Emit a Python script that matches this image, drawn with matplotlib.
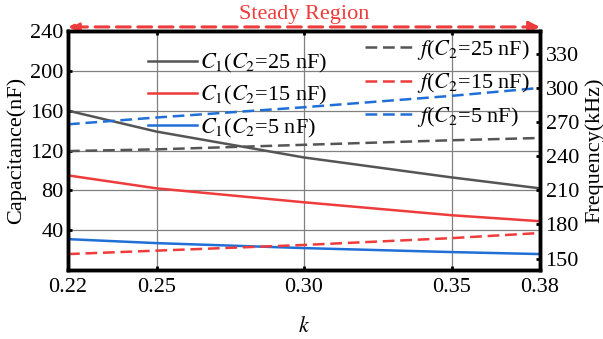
import numpy as np
import matplotlib.pyplot as plt

plt.rcParams['font.family'] = ['Liberation Serif', 'DejaVu Serif']
plt.rcParams['mathtext.fontset'] = 'stix'

k = [0.22, 0.25, 0.30, 0.35, 0.38]
c1_25 = [160, 139, 113, 93, 82]
c1_15 = [95, 82, 68, 55, 49]
c1_5 = [31, 27, 22, 18, 16]
f_25 = [244.5, 246, 250, 254, 256]
f_15 = [154, 157, 162, 168, 172.5]
f_5 = [268, 274, 283, 293, 300]

gray = '#555555'
red = '#ee3b3b'
blue = '#1f6fd6'
dash = (0, (4.7, 2.3))
fs = 16

fig = plt.figure(figsize=(6.03, 3.39), dpi=100)
ax = fig.add_axes([68/603, 1-270/339, 472/603, 239/339])
ax2 = ax.twinx()

h1 = ax.plot(k, c1_25, color=gray, lw=1.8, label='$C_1$($C_2$=25 nF)')
h2 = ax.plot(k, c1_15, color=red, lw=1.8, label='$C_1$($C_2$=15 nF)')
h3 = ax.plot(k, c1_5, color=blue, lw=1.8, label='$C_1$($C_2$=5 nF)')

ax2.plot(k, f_25, color=gray, lw=1.8, ls=dash, label='$f$($C_2$=25 nF)')
ax2.plot(k, f_15, color=red, lw=1.8, ls=dash, label='$f$($C_2$=15 nF)')
ax2.plot(k, f_5, color=blue, lw=1.8, ls=dash, label='$f$($C_2$=5 nF)')

ax.set_xlim(0.22, 0.38)
ax.set_ylim(0, 240)
ax2.set_ylim(140, 350)
ax.set_xticks([0.22, 0.25, 0.30, 0.35, 0.38])
ax.set_xticklabels(['0.22', '0.25', '0.30', '0.35', '0.38'])
ax.set_yticks([40, 80, 120, 160, 200, 240])
ax2.set_yticks([150, 180, 210, 240, 270, 300, 330])
ax.grid(True, color='#808080', lw=0.9)

ax.tick_params(direction='in', labelsize=fs, top=True, width=2, length=3, pad=6)
ax.tick_params(axis='y', pad=3)
ax2.tick_params(direction='in', labelsize=fs, width=2, length=3, pad=4)
for a in (ax, ax2):
    for s in a.spines.values():
        s.set_linewidth(2.5)

ax.set_xlabel('$k$', fontsize=fs, labelpad=14)
ax.set_ylabel('Capacitance(nF)', fontsize=fs, labelpad=3)
ax2.set_ylabel('Frequency(kHz)', fontsize=fs, labelpad=4)

leg_kw = dict(loc='upper left', frameon=False, fontsize=fs, handlelength=2.2,
              labelspacing=0.42, handletextpad=0.15, borderpad=0, borderaxespad=0,
              bbox_transform=fig.transFigure)
leg1 = ax2.legend(handles=h1 + h2 + h3, bbox_to_anchor=(148/603, 1-52/339), **leg_kw)
ax2.add_artist(leg1)
ax2.legend(bbox_to_anchor=(365/603, 1-38/339), **leg_kw)

# steady region arrow above the plot
ax.annotate('', xy=(0.0, 1.017), xytext=(1.0, 1.017), xycoords='axes fraction',
            textcoords='axes fraction', annotation_clip=False,
            arrowprops=dict(arrowstyle='<|-|>', color=red, lw=2.2, ls=(0, (4.5, 2.5)),
                            mutation_scale=16, shrinkA=0, shrinkB=0))
ax.text(0.5, 1.028, 'Steady Region', transform=ax.transAxes, color=red,
        fontsize=fs, ha='center', va='bottom')

fig.savefig('out.png', dpi=100)
